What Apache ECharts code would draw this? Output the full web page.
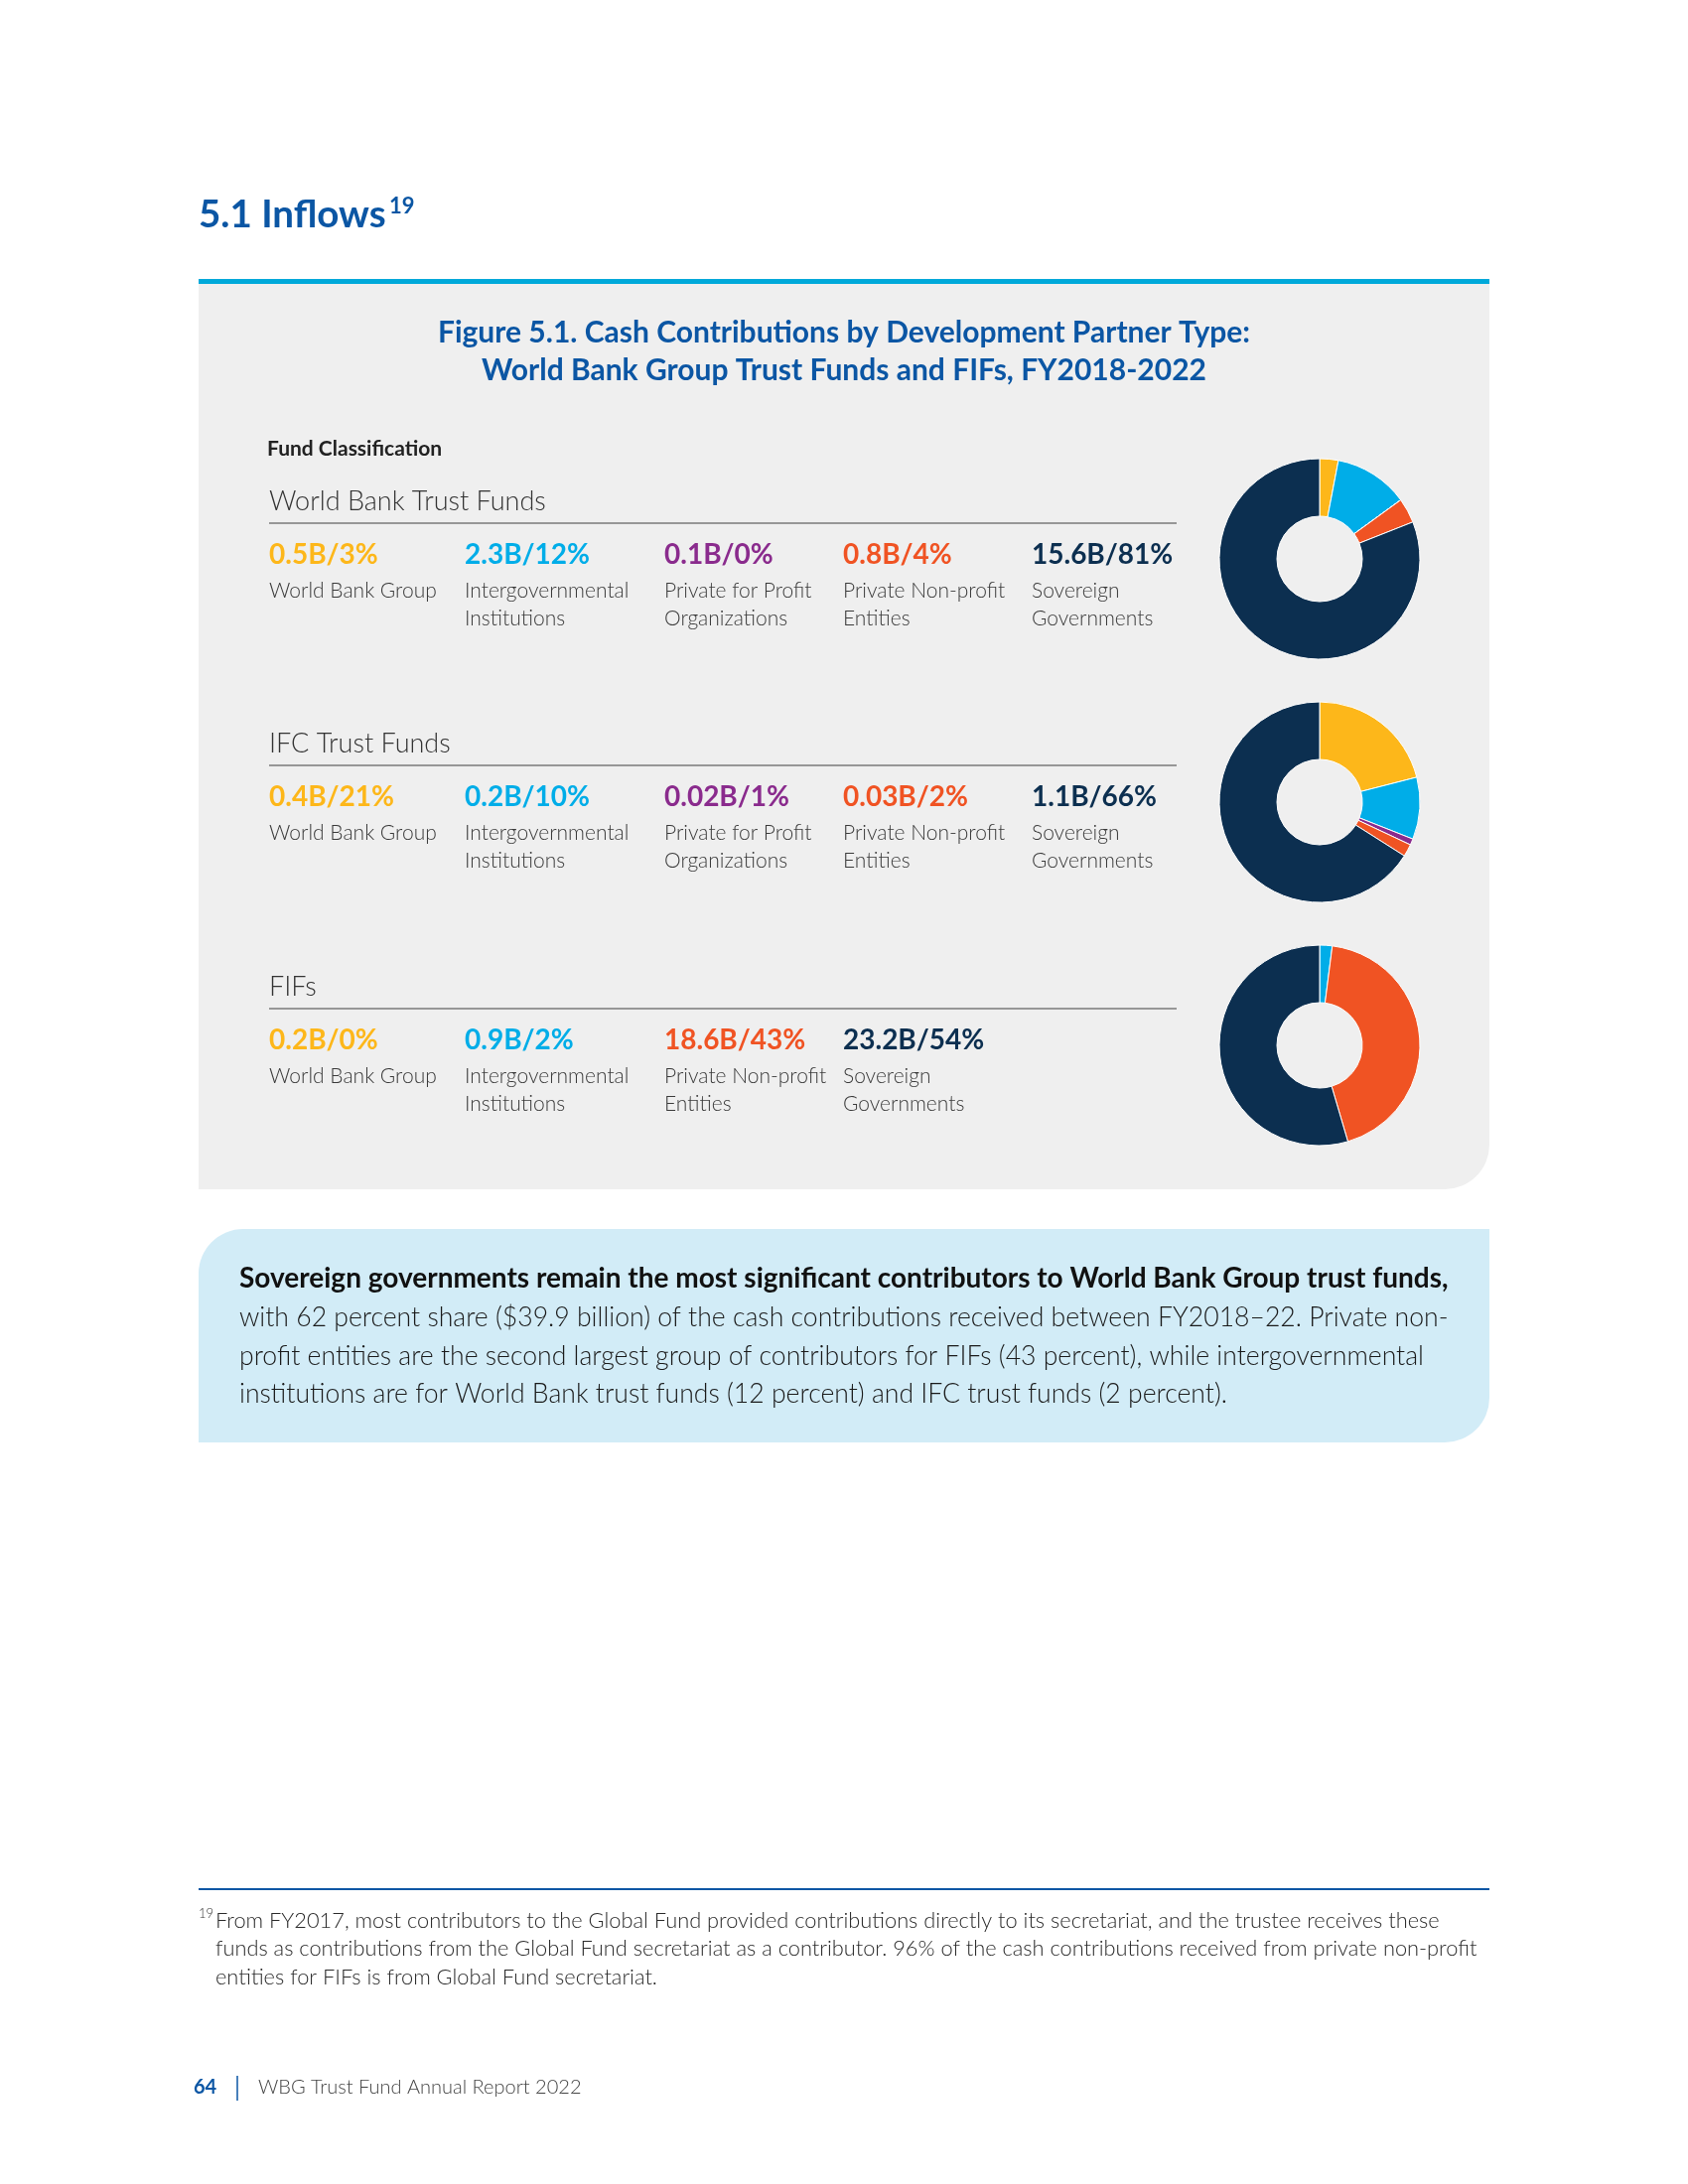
<!DOCTYPE html>
<html>
<head>
<meta charset="utf-8">
<script src="https://cdn.jsdelivr.net/npm/echarts@6/dist/echarts.min.js"></script>
<style>
  html, body { margin: 0; padding: 0; background: #ffffff; }
  #chart { width: 1700px; height: 2200px; }
</style>
</head>
<body>
<div id="chart"></div>
<script>
// ---------------- DATA ----------------
const partnerTypes = ['World Bank Group', 'Intergovernmental\nInstitutions', 'Private for Profit\nOrganizations', 'Private Non-profit\nEntities', 'Sovereign\nGovernments'];
const partnerKeys = ['wbg', 'igo', 'pfp', 'pnp', 'sov'];

const wbtfTitle = 'World Bank Trust Funds';
const wbtfAmounts = ['0.5B', '2.3B', '0.1B', '0.8B', '15.6B'];
const wbtfShares = [3, 12, 0, 4, 81];

const ifcTitle = 'IFC Trust Funds';
const ifcAmounts = ['0.4B', '0.2B', '0.02B', '0.03B', '1.1B'];
const ifcShares = [21, 10, 1, 2, 66];

const fifTitle = 'FIFs';
const fifTypes = ['World Bank Group', 'Intergovernmental\nInstitutions', 'Private Non-profit\nEntities', 'Sovereign\nGovernments'];
const fifKeys = ['wbg', 'igo', 'pnp', 'sov'];
const fifAmounts = ['0.2B', '0.9B', '18.6B', '23.2B'];
const fifShares = [0, 2, 43, 54];

// ---------------- STYLE ----------------
const palette = { wbg: '#FDB71A', igo: '#00ADE8', pfp: '#8A2B8D', pnp: '#F05323', sov: '#0C2F50' };
const FONT = 'Lato, "Open Sans", "Noto Sans", sans-serif';
const BLUE = '#0B56A4';

const chart = echarts.init(document.getElementById('chart'), null, { renderer: 'canvas' });

function txt(text, x, y, size, weight, fill, extra) {
  return {
    type: 'text', x: x, y: y, silent: true,
    style: Object.assign({
      text: text, fill: fill, fontSize: size, fontWeight: weight, fontFamily: FONT,
      textAlign: 'left', textVerticalAlign: 'middle', lineHeight: Math.round(size * 1.4)
    }, extra || {})
  };
}

const colX = [271, 468, 669, 849, 1039];
function section(title, keys, types, amounts, shares, top) {
  const els = [];
  els.push(txt(title, 271, top, 27, 300, '#333333'));
  els.push({ type: 'line', silent: true, shape: { x1: 271, y1: top + 22, x2: 1185, y2: top + 22 }, style: { stroke: '#7a7a7a', lineWidth: 1.5 } });
  keys.forEach(function (k, i) {
    els.push(txt(amounts[i] + '/' + shares[i] + '%', colX[i], top + 54, 28, 'bold', palette[k]));
    els.push(txt(types[i], colX[i], top + 76, 21, 300, '#3a3a3a', { textVerticalAlign: 'top', lineHeight: 28 }));
  });
  return els;
}

const graphics = [
  // heading
  txt('5.1 Inflows', 200, 217, 38.5, 'bold', BLUE),
  txt('19', 392, 208, 22, 'bold', BLUE),
  // blue rule + grey panel
  { type: 'rect', silent: true, shape: { x: 200, y: 281, width: 1300, height: 5 }, style: { fill: '#00A9DA' } },
  { type: 'rect', silent: true, z: -1, shape: { x: 200, y: 286, width: 1300, height: 912, r: [0, 0, 45, 0] }, style: { fill: '#EFEFEF' } },
  // figure title
  txt('Figure 5.1. Cash Contributions by Development Partner Type:', 850, 335, 30, 'bold', BLUE, { textAlign: 'center' }),
  txt('World Bank Group Trust Funds and FIFs, FY2018-2022', 850, 373, 30, 'bold', BLUE, { textAlign: 'center' }),
  txt('Fund Classification', 269, 452, 21, 'bold', '#222222'),
  // callout box
  { type: 'rect', silent: true, z: -1, shape: { x: 200, y: 1238, width: 1300, height: 215, r: [45, 0, 45, 0] }, style: { fill: '#D2ECF7' } },
  txt('Sovereign governments remain the most significant contributors to World Bank Group trust funds,', 241, 1288, 28, 'bold', '#111111'),
  txt('with 62 percent share ($39.9 billion) of the cash contributions received between FY2018\u201322. Private non-', 241, 1327, 26.6, 300, '#1a1a1a'),
  txt('profit entities are the second largest group of contributors for FIFs (43 percent), while intergovernmental', 241, 1366, 26.6, 300, '#1a1a1a'),
  txt('institutions are for World Bank trust funds (12 percent) and IFC trust funds (2 percent).', 241, 1404, 26.6, 300, '#1a1a1a'),
  // footnote
  { type: 'line', silent: true, shape: { x1: 200, y1: 1903, x2: 1500, y2: 1903 }, style: { stroke: BLUE, lineWidth: 2 } },
  txt('19', 200, 1928, 13, 300, '#333333'),
  txt('From FY2017, most contributors to the Global Fund provided contributions directly to its secretariat, and the trustee receives these', 217, 1935, 21.8, 300, '#2a2a2a'),
  txt('funds as contributions from the Global Fund secretariat as a contributor. 96% of the cash contributions received from private non-profit', 217, 1963, 21.8, 300, '#2a2a2a'),
  txt('entities for FIFs is from Global Fund secretariat.', 217, 1992, 21.8, 300, '#2a2a2a'),
  // page footer
  txt('64', 195, 2103, 20, 'bold', BLUE),
  { type: 'line', silent: true, shape: { x1: 239, y1: 2091, x2: 239, y2: 2116 }, style: { stroke: BLUE, lineWidth: 1.5 } },
  txt('WBG Trust Fund Annual Report 2022', 260, 2103, 20, 300, '#444444')
].concat(
  section(wbtfTitle, partnerKeys, partnerTypes, wbtfAmounts, wbtfShares, 505),
  section(ifcTitle, partnerKeys, partnerTypes, ifcAmounts, ifcShares, 749),
  section(fifTitle, fifKeys, fifTypes, fifAmounts, fifShares, 994)
);

function pie(keys, shares, cy) {
  return {
    type: 'pie', center: [1329, cy], radius: [43, 101], startAngle: 90, clockwise: true,
    silent: true, animation: false, avoidLabelOverlap: false,
    label: { show: false }, labelLine: { show: false },
    itemStyle: { borderColor: '#ffffff', borderWidth: 1 },
    data: keys.map(function (k, i) { return { name: k, value: shares[i], itemStyle: { color: palette[k] } }; })
  };
}

chart.setOption({
  animation: false,
  backgroundColor: '#ffffff',
  graphic: graphics,
  series: [
    pie(partnerKeys, wbtfShares, 563),
    pie(partnerKeys, ifcShares, 808),
    pie(fifKeys, fifShares, 1053)
  ]
});
</script>
</body>
</html>
